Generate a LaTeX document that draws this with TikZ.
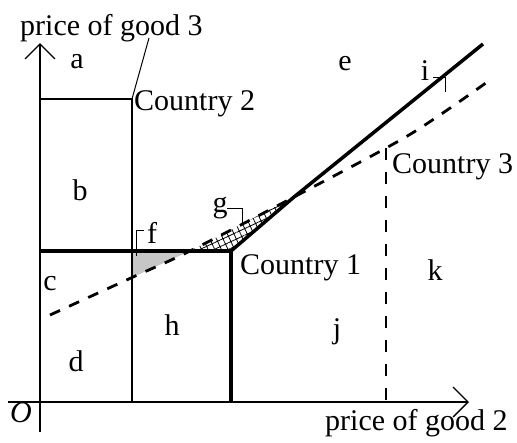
\documentclass[tikz,border=0pt]{standalone}
\usepackage{fontspec}
\setmainfont{Liberation Serif}
\usetikzlibrary{arrows.meta,patterns.meta}
\begin{document}
\begin{tikzpicture}[x=1pt,y=-1pt,
  lbl/.style={inner sep=0pt,font=\fontsize{30}{36}\selectfont},
  axisline/.style={line width=1.3pt,-{Straight Barb[length=15pt,width=30pt,line width=1.3pt]}},
  thinline/.style={line width=1.3pt},
  leader/.style={line width=1pt},
  thickline/.style={line width=3.5pt,line join=miter},
  dashline/.style={line width=2.8pt,dash pattern=on 11pt off 10pt},
  vdashline/.style={line width=2.8pt,dash pattern=on 12pt off 12pt}]
\useasboundingbox (0,0) rectangle (517,442);
% coordinates
\coordinate (ybot) at (40,432);
\coordinate (ytop) at (40,43);
\coordinate (xleft) at (8,402);
\coordinate (xright) at (469,402);
\coordinate (c2top) at (132,99);
\coordinate (c2bot) at (132,402);
\coordinate (c2left) at (40,99);
\coordinate (c2lead) at (149,38);
\coordinate (hleft) at (40,251);
\coordinate (c1) at (231,251);
\coordinate (c1bot) at (231,402);
\coordinate (p) at (294,197);
\coordinate (tend) at (483,44);
\coordinate (d0) at (50,315);
\coordinate (d1) at (132,277.5);
\coordinate (d2) at (190,251);
\coordinate (d3) at (409,135);
\coordinate (d4) at (490,80);
\coordinate (c3) at (386,148);
\coordinate (c3bot) at (386,402);
% shaded areas
\fill[gray!45] (c2bot |- hleft) -- (d2) -- (d1) -- cycle;
\fill[pattern={Hatch[angle=25,distance=6pt,line width=0.8pt]}] (d2) -- (c1) -- (p) -- cycle;
% axes
\draw[axisline] (ybot) -- (ytop);
\draw[axisline] (xleft) -- (xright);
% country 2
\draw[thinline] (c2left) -- (c2top) -- (c2bot);
\draw[leader] (c2top) -- (c2lead);
% country 1 thick lines
\draw[thickline] (hleft) -- (c1) -- (c1bot);
\draw[thickline] (c1) -- (p) -- (tend);
% dashed lines
\draw[dashline] plot[smooth,tension=0.5] coordinates {(d0) (d1) (d2) (p) (d3) (d4)};
\draw[vdashline] (c3) -- (c3bot);
% brackets
\draw[leader] (136,256) -- (136,230) -- (144,230);
\draw[leader] (227,208) -- (242,208) -- (242,223);
\draw[leader] (433,77) -- (445,77) -- (445,92);
% labels
\node[lbl,anchor=base west] (py) at (20,35) {price of good 3};
\node[lbl,anchor=base west] (px) at (325,430) {price of good 2};
\node[lbl,anchor=base west] (o) at (10,422) {\textit{O}};
\node[lbl,anchor=base west] (n2) at (134,110) {Country 2};
\node[lbl,anchor=base west] (n1) at (240,274) {Country 1};
\node[lbl,anchor=base west] (n3) at (392,173) {Country 3};
\node[lbl,anchor=base] (la) at (77,68) {a};
\node[lbl,anchor=base] (lb) at (80,200) {b};
\node[lbl,anchor=base] (lc) at (50,290) {c};
\node[lbl,anchor=base] (ld) at (76,371) {d};
\node[lbl,anchor=base] (le) at (345,70) {e};
\node[lbl,anchor=base] (lf) at (152,243) {f};
\node[lbl,anchor=base] (lg) at (220,212) {g};
\node[lbl,anchor=base] (lh) at (172,335) {h};
\node[lbl,anchor=base] (li) at (425,80) {i};
\node[lbl,anchor=base] (lj) at (337,338) {j};
\node[lbl,anchor=base] (lk) at (435,280) {k};
\end{tikzpicture}
\end{document}
